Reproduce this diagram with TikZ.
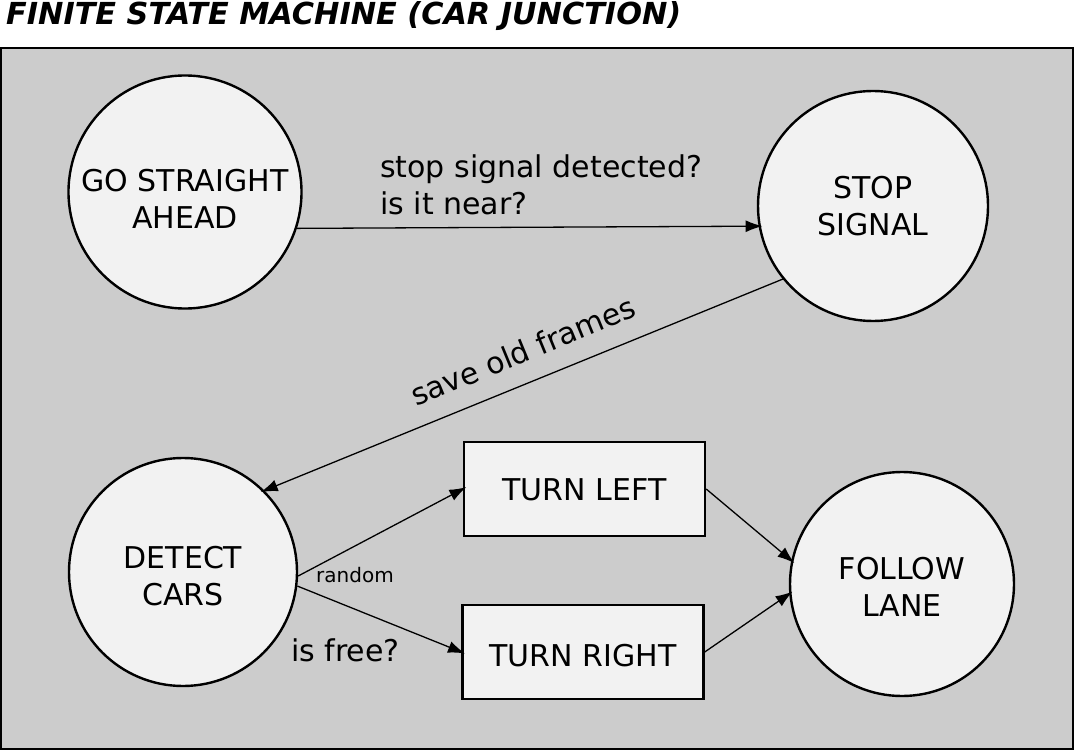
\documentclass[tikz,border=0pt]{standalone}
\usepackage{fontspec}
\setmainfont{DejaVu Sans}
\usetikzlibrary{arrows.meta}
\definecolor{bgray}{HTML}{CCCCCC}
\definecolor{nfill}{HTML}{F2F2F2}
\begin{document}
\begin{tikzpicture}[x=1pt,y=-1pt,
  state/.style={circle,draw=black,line width=2.4pt,fill=nfill,inner sep=0pt},
  stext/.style={align=center,inner sep=0pt,font=\fontsize{30}{37}\selectfont},
  actbox/.style={rectangle,draw=black,line width=2.4pt,fill=nfill,inner sep=0pt,minimum width=241pt,minimum height=94pt},
  conn/.style={line width=1.3pt,-{Latex[length=17pt,width=12pt]},shorten >=-4pt},
  lbl/.style={inner sep=0pt,font=\fontsize{30}{37}\selectfont},
  small/.style={inner sep=0pt,font=\fontsize{20}{24}\selectfont},
]
\useasboundingbox (0,0) rectangle (1075,751);
\node[lbl,anchor=base west,font=\fontsize{30.3}{37}\selectfont\bfseries\itshape] (title) at (6,25) {FINITE STATE MACHINE (CAR JUNCTION)};
\draw[line width=2pt,fill=bgray] (1,48) rectangle (1073,749);

\node[state,minimum size=233pt] (go) at (185,192) {};
\node[state,minimum size=230pt] (stop) at (873,206) {};
\node[state,minimum size=228pt] (detect) at (183,572) {};
\node[state,minimum size=224pt] (follow) at (902,584) {};
\node[actbox] (tl) at (584.5,489) {};
\node[actbox] (tr) at (583,652) {};

\node[stext] (got) at ([yshift=-6.5pt]go.center) {GO STRAIGHT\\AHEAD};
\node[stext] (stopt) at ([yshift=-0.5pt]stop.center) {STOP\\SIGNAL};
\node[stext] (detectt) at ([yshift=-4pt]detect.center) {DETECT\\CARS};
\node[stext] (followt) at ([yshift=-2.5pt]follow.center) {FOLLOW\\LANE};
\node[stext] (tlt) at ([yshift=-1pt]tl.center) {TURN LEFT};
\node[stext] (trt) at ([yshift=-4pt]tr.center) {TURN RIGHT};

\draw[conn] (go.-18) -- (stop.190);
\draw[conn] (stop.219) -- (detect.45);
\draw[conn] (detect.-2) -- (tl.west);
\draw[conn] (detect.-7) -- (tr.west);
\draw[conn] (tl.east) -- (follow.168);
\draw[conn] (tr.east) -- (follow.185);

\node[lbl,align=left,anchor=north west] (l1) at (380,155) {stop signal detected?\\is it near?};
\node[lbl,rotate=22.3] (l2) at (523,351) {save old frames};
\node[small,anchor=base west] (l3) at (316,582) {random};
\node[lbl,anchor=base west] (l4) at (291,661) {is free?};
\end{tikzpicture}
\end{document}
